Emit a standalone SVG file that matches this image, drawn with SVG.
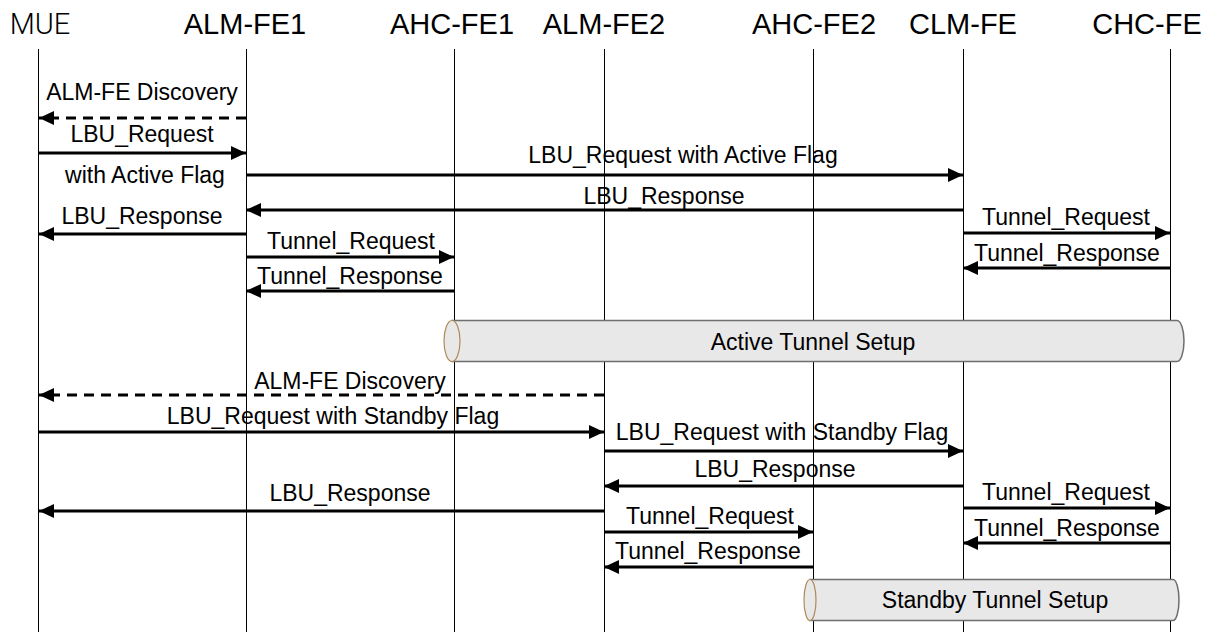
<svg xmlns="http://www.w3.org/2000/svg" width="1211" height="632" viewBox="0 0 1211 632">
<style>
.hdr{font-family:"Liberation Sans",Arial,sans-serif;font-size:29px;fill:#000;text-anchor:middle}
.mue{font-family:Roboto,"Liberation Sans",sans-serif;font-weight:300;font-size:29px;fill:#000;text-anchor:middle}
.lbl{font-family:"Liberation Sans",Arial,sans-serif;font-size:23px;fill:#000;text-anchor:middle}
.life{stroke:#000;stroke-width:1;fill:none}
.msg{stroke:#000;stroke-width:3;fill:none;marker-end:url(#ah)}
.dash{stroke-dasharray:10 7}
.cyl{fill:#e8e8e8;stroke:#6e6e6e;stroke-width:1.5}
.cap{fill:#e8e8e8;stroke:#b08a5a;stroke-width:1.2}
</style>
<defs>
<marker id="ah" markerUnits="userSpaceOnUse" markerWidth="16" markerHeight="14" refX="15" refY="7" orient="auto">
<path d="M0,0 L15,7 L0,14 Z" fill="#000"/>
</marker>
</defs>
<rect width="1211" height="632" fill="#fff"/>
<g id="MUE"><text class="mue" x="40" y="34">MUE</text><line class="life" x1="38.5" y1="49" x2="38.5" y2="632"/></g>
<g id="ALM-FE1"><text class="hdr" x="245" y="34">ALM-FE1</text><line class="life" x1="246.5" y1="49" x2="246.5" y2="632"/></g>
<g id="AHC-FE1"><text class="hdr" x="452" y="34">AHC-FE1</text><line class="life" x1="454.5" y1="49" x2="454.5" y2="632"/></g>
<g id="ALM-FE2"><text class="hdr" x="604" y="34">ALM-FE2</text><line class="life" x1="604.5" y1="49" x2="604.5" y2="632"/></g>
<g id="AHC-FE2"><text class="hdr" x="814" y="34">AHC-FE2</text><line class="life" x1="813.5" y1="49" x2="813.5" y2="632"/></g>
<g id="CLM-FE"><text class="hdr" x="963" y="34">CLM-FE</text><line class="life" x1="963.5" y1="49" x2="963.5" y2="632"/></g>
<g id="CHC-FE"><text class="hdr" x="1147" y="34">CHC-FE</text><line class="life" x1="1170.5" y1="49" x2="1170.5" y2="632"/></g>
<g id="connectors">
<path class="msg dash" d="M246,118 H39"/>
<path class="msg" d="M39,153 H246"/>
<path class="msg" d="M246,175 H963"/>
<path class="msg" d="M963,210 H246"/>
<path class="msg" d="M246,234 H39"/>
<path class="msg" d="M963,233 H1170"/>
<path class="msg" d="M246,257 H454"/>
<path class="msg" d="M1170,268 H963"/>
<path class="msg" d="M454,291 H246"/>
<path class="msg dash" d="M604,395 H39"/>
<path class="msg" d="M39,432 H604"/>
<path class="msg" d="M604,451 H963"/>
<path class="msg" d="M963,486 H604"/>
<path class="msg" d="M963,508 H1170"/>
<path class="msg" d="M604,511 H39"/>
<path class="msg" d="M604,532 H813"/>
<path class="msg" d="M1170,543 H963"/>
<path class="msg" d="M813,567 H604"/>
</g>
<g id="labels">
<text class="lbl" x="142" y="100">ALM-FE Discovery</text>
<text class="lbl" x="142" y="142">LBU_Request</text>
<text class="lbl" x="145" y="183">with Active Flag</text>
<text class="lbl" x="683" y="163">LBU_Request with Active Flag</text>
<text class="lbl" x="664" y="204">LBU_Response</text>
<text class="lbl" x="142" y="224">LBU_Response</text>
<text class="lbl" x="1066" y="225">Tunnel_Request</text>
<text class="lbl" x="351" y="249">Tunnel_Request</text>
<text class="lbl" x="1067" y="261">Tunnel_Response</text>
<text class="lbl" x="350" y="284">Tunnel_Response</text>
<text class="lbl" x="350" y="389">ALM-FE Discovery</text>
<text class="lbl" x="333" y="424">LBU_Request with Standby Flag</text>
<text class="lbl" x="782" y="440">LBU_Request with Standby Flag</text>
<text class="lbl" x="775" y="477">LBU_Response</text>
<text class="lbl" x="1066" y="500">Tunnel_Request</text>
<text class="lbl" x="350" y="501">LBU_Response</text>
<text class="lbl" x="710" y="524">Tunnel_Request</text>
<text class="lbl" x="1067" y="536">Tunnel_Response</text>
<text class="lbl" x="708" y="559">Tunnel_Response</text>
</g>
<g id="active-tunnel">
<path class="cyl" d="M452,320.5 H1177 A7,20.5 0 0 1 1177,361.5 H452 Z"/>
<ellipse class="cap" cx="452" cy="341" rx="8" ry="20.5"/>
<text class="lbl" x="813" y="350">Active Tunnel Setup</text>
</g>
<g id="standby-tunnel">
<path class="cyl" d="M810,579.5 H1173 A6,20.5 0 0 1 1173,620.5 H810 Z"/>
<ellipse class="cap" cx="810" cy="600" rx="6" ry="20.5"/>
<text class="lbl" x="995" y="608">Standby Tunnel Setup</text>
</g>
</svg>
